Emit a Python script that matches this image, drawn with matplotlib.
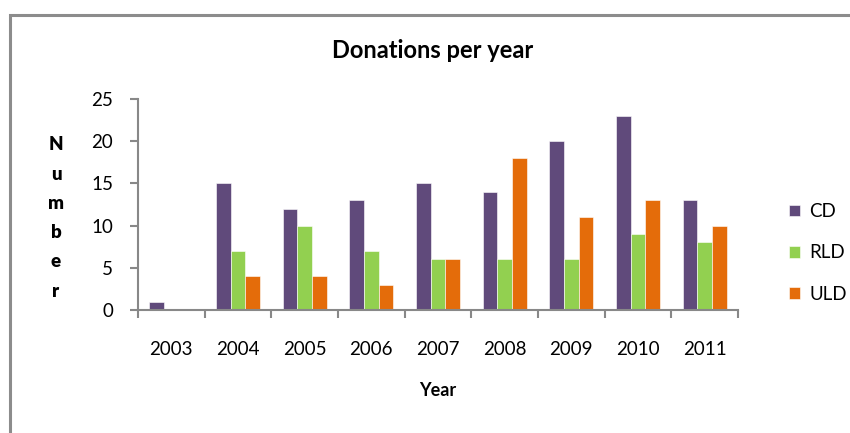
import numpy as np
import matplotlib.pyplot as plt
from matplotlib.patches import Rectangle

plt.rcParams["font.family"] = ["Lato", "DejaVu Sans"]

years = ["2003", "2004", "2005", "2006", "2007", "2008", "2009", "2010", "2011"]
cd = [1, 15, 12, 13, 15, 14, 20, 23, 13]
rld = [0, 7, 10, 7, 6, 6, 6, 9, 8]
uld = [0, 4, 4, 3, 6, 18, 11, 13, 10]

colors = {"CD": "#604A7B", "RLD": "#92D050", "ULD": "#E46C0A"}

W, H = 850, 433
fig = plt.figure(figsize=(W / 100, H / 100), dpi=100)

# outer chart border (only top/left visible in the crop)
fig.patches.append(Rectangle((10 / W, -0.1), 1.2, (H - 15) / H + 0.1,
                             transform=fig.transFigure, fill=False,
                             edgecolor="#8c8c8c", linewidth=2.2))

ax = fig.add_axes([138 / W, (H - 310) / H, 600 / W, 211 / H])

x = np.arange(len(years))
bw = 0.22
for off, (name, vals) in zip([-bw, 0, bw], [("CD", cd), ("RLD", rld), ("ULD", uld)]):
    ax.bar(x + off, vals, bw, color=colors[name], label=name,
           edgecolor="white", linewidth=0.4)

ax.set_xlim(-0.5, len(years) - 0.5)
ax.set_ylim(0, 25)
ax.set_yticks(range(0, 26, 5))
ax.set_xticks(x)
ax.set_xticklabels(years)
ax.set_xticks(np.arange(-0.5, len(years)), minor=True)
ax.tick_params(axis="x", which="major", length=0, pad=22, labelsize=13.5)
ax.tick_params(axis="x", which="minor", length=6, width=1.5, color="#888888", direction="out")
ax.tick_params(axis="y", length=6, width=1.5, color="#888888", pad=12, labelsize=13.5)

for s in ["top", "right"]:
    ax.spines[s].set_visible(False)
for s in ["left", "bottom"]:
    ax.spines[s].set_color("#888888")
    ax.spines[s].set_linewidth(1.5)

fig.text(433 / W, 1 - 51 / H, "Donations per year", ha="center", va="center",
         fontsize=17, fontweight="bold")
fig.text(438 / W, 1 - 391 / H, "Year", ha="center", va="center",
         fontsize=13, fontweight="bold")
fig.text(56 / W, 1 - 218 / H, "N\nu\nm\nb\ne\nr", ha="center", va="center",
         fontsize=13.5, fontweight="heavy", linespacing=1.88)

fig.legend(loc="center left", bbox_to_anchor=(772 / W, 1 - 253 / H),
           frameon=False, fontsize=13.5, handlelength=0.6, handleheight=0.6,
           labelspacing=1.3, handletextpad=0.5)

fig.savefig("out.png", dpi=100)
